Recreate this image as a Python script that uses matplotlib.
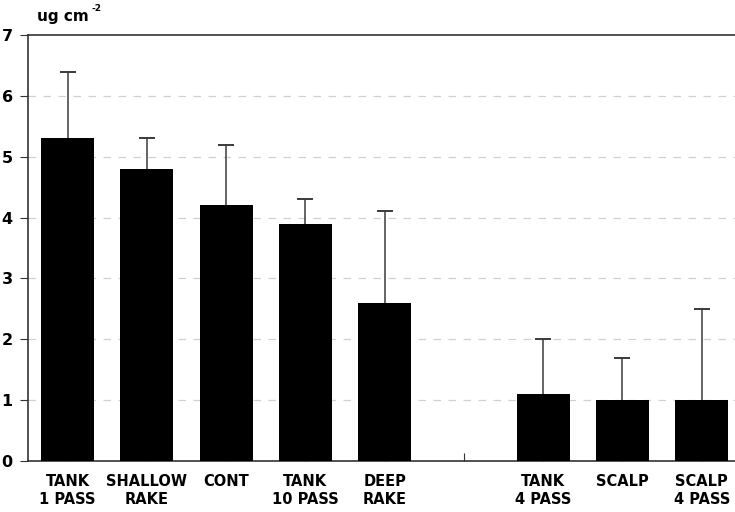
import numpy as np
import matplotlib.pyplot as plt

plt.rcParams['font.family'] = ['DejaVu Sans']

# данные
labels = ['TANK\n1 PASS', 'SHALLOW\nRAKE', 'CONT', 'TANK\n10 PASS', 'DEEP\nRAKE',
          'TANK\n4 PASS', 'SCALP', 'SCALP\n4 PASS']
positions = [0, 1, 2, 3, 4, 6, 7, 8]
values = [5.3, 4.8, 4.2, 3.9, 2.6, 1.1, 1.0, 1.0]
err_top = [6.4, 5.3, 5.2, 4.3, 4.1, 2.0, 1.7, 2.5]

fig = plt.figure(figsize=(7.35, 5.12), dpi=100)
ax = fig.add_axes([0.038, 0.0996, 0.962, 0.832])

ax.bar(positions, values, width=0.67, color='black', zorder=3)
# только верхние "усы"
ax.vlines(positions, values, err_top, color='#3a3a3a', linewidth=1.1, zorder=2)
ax.plot(positions, err_top, linestyle='none', marker='_', markersize=11,
        markeredgewidth=1.4, color='#3a3a3a', zorder=2)

ax.set_xlim(-0.5, 8.42)
ax.set_ylim(0, 7)
ax.set_yticks(range(8))
ax.set_yticklabels([str(i) for i in range(8)], fontsize=11.5, fontweight='bold')
ax.set_xticks(positions + [5])
ax.set_xticklabels(labels + [''], fontsize=10.5, fontweight='bold', linespacing=1.25)
ax.tick_params(axis='x', direction='in', length=6, pad=9, color='#333333')
ax.tick_params(axis='y', direction='out', length=6, pad=5, color='#333333')

for y in range(1, 7):
    ax.axhline(y, color='#d0d0d0', linestyle=(0, (6, 6)), linewidth=0.9, zorder=1)

ax.spines['right'].set_visible(False)
for s in ['left', 'bottom', 'top']:
    ax.spines[s].set_color('#333333')
    ax.spines[s].set_linewidth(1.2)

fig.text(0.051, 0.968, 'ug cm', fontsize=11, fontweight='bold', va='center')
fig.text(0.124, 0.983, '-2', fontsize=6.5, fontweight='bold', va='center')

plt.savefig('out.png', dpi=100)
